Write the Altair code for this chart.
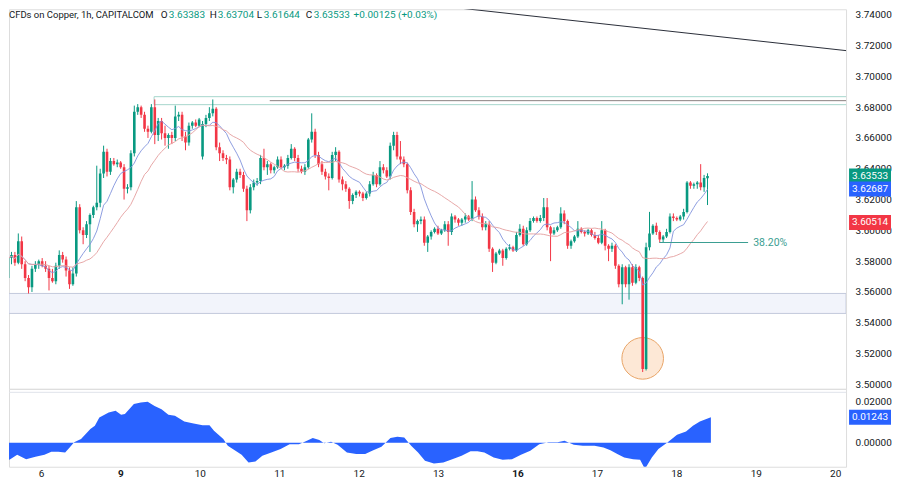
import json
import altair as alt
import pandas as pd

# ---------------- data ----------------
opens = [
    3.569, 3.582, 3.584, 3.579, 3.593, 3.578, 3.569, 3.563, 3.575, 3.578,
    3.580, 3.577, 3.575, 3.569, 3.567, 3.577, 3.584, 3.581, 3.574, 3.565,
    3.572, 3.615, 3.600, 3.597, 3.604, 3.610, 3.615, 3.618, 3.637, 3.651,
    3.638, 3.645, 3.643, 3.644, 3.641, 3.627, 3.628, 3.650, 3.677, 3.680,
    3.675, 3.666, 3.664, 3.680, 3.662, 3.671, 3.663, 3.660, 3.662, 3.660,
    3.674, 3.675, 3.661, 3.657, 3.668, 3.670, 3.668, 3.648, 3.669, 3.673,
    3.676, 3.679, 3.654, 3.650, 3.647, 3.646, 3.628, 3.633, 3.638, 3.636,
    3.627, 3.613, 3.628, 3.631, 3.632, 3.647, 3.641, 3.643, 3.639, 3.641,
    3.646, 3.641, 3.642, 3.647, 3.653, 3.647, 3.640, 3.638, 3.641, 3.659,
    3.664, 3.649, 3.643, 3.638, 3.635, 3.634, 3.649, 3.651, 3.633, 3.630,
    3.627, 3.619, 3.623, 3.625, 3.624, 3.621, 3.624, 3.630, 3.636, 3.630,
    3.641, 3.639, 3.635, 3.655, 3.662, 3.648, 3.646, 3.643, 3.626, 3.612,
    3.604, 3.606, 3.607, 3.592, 3.596, 3.599, 3.601, 3.598, 3.600, 3.604,
    3.599, 3.609, 3.607, 3.605, 3.607, 3.609, 3.607, 3.620, 3.613, 3.609,
    3.602, 3.604, 3.588, 3.579, 3.585, 3.587, 3.582, 3.588, 3.589, 3.587,
    3.597, 3.601, 3.591, 3.600, 3.606, 3.608, 3.606, 3.608, 3.615, 3.602,
    3.598, 3.600, 3.602, 3.611, 3.606, 3.590, 3.593, 3.596, 3.601, 3.599,
    3.598, 3.600, 3.597, 3.595, 3.592, 3.600, 3.590, 3.588, 3.590, 3.577,
    3.565, 3.576, 3.565, 3.576, 3.566, 3.576, 3.569, 3.510, 3.589, 3.598,
    3.603, 3.599, 3.594, 3.596, 3.599, 3.609, 3.608, 3.607, 3.609, 3.612,
    3.631, 3.629, 3.630, 3.631, 3.628, 3.63383,
]
highs = [
    3.585, 3.586, 3.586, 3.598, 3.596, 3.580, 3.571, 3.577, 3.580, 3.581,
    3.582, 3.580, 3.577, 3.575, 3.579, 3.587, 3.586, 3.583, 3.576, 3.576,
    3.619, 3.617, 3.602, 3.606, 3.611, 3.616, 3.642, 3.640, 3.655, 3.653,
    3.647, 3.647, 3.646, 3.645, 3.643, 3.630, 3.652, 3.681, 3.682, 3.681,
    3.677, 3.668, 3.682, 3.685, 3.673, 3.673, 3.668, 3.663, 3.664, 3.681,
    3.677, 3.677, 3.664, 3.670, 3.671, 3.672, 3.673, 3.671, 3.675, 3.680,
    3.685, 3.680, 3.657, 3.652, 3.649, 3.648, 3.634, 3.640, 3.640, 3.638,
    3.629, 3.630, 3.633, 3.634, 3.649, 3.653, 3.645, 3.644, 3.642, 3.648,
    3.648, 3.643, 3.649, 3.656, 3.654, 3.649, 3.642, 3.643, 3.660, 3.676,
    3.666, 3.651, 3.645, 3.640, 3.637, 3.651, 3.654, 3.652, 3.635, 3.632,
    3.628, 3.624, 3.626, 3.626, 3.625, 3.625, 3.632, 3.638, 3.637, 3.645,
    3.643, 3.641, 3.657, 3.664, 3.664, 3.658, 3.648, 3.644, 3.628, 3.614,
    3.607, 3.609, 3.609, 3.597, 3.600, 3.602, 3.603, 3.601, 3.606, 3.606,
    3.611, 3.610, 3.608, 3.608, 3.611, 3.610, 3.632, 3.622, 3.615, 3.611,
    3.606, 3.606, 3.589, 3.586, 3.588, 3.588, 3.589, 3.591, 3.590, 3.599,
    3.604, 3.603, 3.602, 3.608, 3.609, 3.609, 3.610, 3.621, 3.621, 3.603,
    3.602, 3.603, 3.615, 3.613, 3.607, 3.594, 3.597, 3.606, 3.602, 3.600,
    3.601, 3.601, 3.599, 3.597, 3.606, 3.601, 3.591, 3.592, 3.591, 3.578,
    3.578, 3.577, 3.578, 3.578, 3.578, 3.577, 3.570, 3.592, 3.612, 3.604,
    3.605, 3.600, 3.597, 3.601, 3.611, 3.611, 3.609, 3.610, 3.614, 3.632,
    3.632, 3.631, 3.632, 3.643, 3.636, 3.63704,
]
lows = [
    3.565, 3.578, 3.577, 3.578, 3.575, 3.567, 3.559, 3.560, 3.573, 3.575,
    3.576, 3.573, 3.561, 3.566, 3.565, 3.575, 3.579, 3.570, 3.562, 3.564,
    3.570, 3.598, 3.591, 3.595, 3.586, 3.608, 3.613, 3.615, 3.634, 3.635,
    3.636, 3.642, 3.641, 3.640, 3.620, 3.624, 3.626, 3.648, 3.675, 3.673,
    3.664, 3.660, 3.663, 3.656, 3.658, 3.659, 3.655, 3.653, 3.656, 3.658,
    3.671, 3.658, 3.652, 3.655, 3.666, 3.667, 3.667, 3.646, 3.667, 3.671,
    3.674, 3.652, 3.645, 3.645, 3.643, 3.626, 3.624, 3.631, 3.634, 3.625,
    3.606, 3.611, 3.626, 3.629, 3.630, 3.639, 3.636, 3.637, 3.637, 3.640,
    3.640, 3.639, 3.640, 3.646, 3.645, 3.638, 3.637, 3.636, 3.640, 3.657,
    3.647, 3.641, 3.636, 3.633, 3.626, 3.633, 3.645, 3.631, 3.626, 3.625,
    3.614, 3.617, 3.621, 3.622, 3.619, 3.620, 3.622, 3.629, 3.628, 3.629,
    3.637, 3.634, 3.633, 3.652, 3.646, 3.643, 3.641, 3.624, 3.610, 3.602,
    3.599, 3.604, 3.590, 3.586, 3.594, 3.598, 3.597, 3.597, 3.599, 3.590,
    3.597, 3.605, 3.603, 3.603, 3.605, 3.606, 3.606, 3.612, 3.607, 3.600,
    3.600, 3.586, 3.573, 3.578, 3.584, 3.577, 3.581, 3.587, 3.586, 3.586,
    3.596, 3.590, 3.590, 3.599, 3.605, 3.605, 3.605, 3.606, 3.600, 3.580,
    3.597, 3.599, 3.601, 3.604, 3.588, 3.588, 3.592, 3.595, 3.598, 3.596,
    3.597, 3.596, 3.594, 3.591, 3.591, 3.587, 3.580, 3.586, 3.575, 3.563,
    3.552, 3.563, 3.555, 3.564, 3.565, 3.567, 3.508, 3.509, 3.587, 3.597,
    3.597, 3.592, 3.592, 3.595, 3.598, 3.606, 3.606, 3.606, 3.607, 3.611,
    3.627, 3.627, 3.627, 3.626, 3.625, 3.61644,
]
closes = [
    3.582, 3.584, 3.579, 3.593, 3.578, 3.569, 3.563, 3.575, 3.578, 3.580,
    3.577, 3.575, 3.569, 3.567, 3.577, 3.584, 3.581, 3.574, 3.565, 3.572,
    3.615, 3.600, 3.597, 3.604, 3.610, 3.615, 3.618, 3.637, 3.651, 3.638,
    3.645, 3.643, 3.644, 3.641, 3.627, 3.628, 3.650, 3.677, 3.680, 3.675,
    3.666, 3.664, 3.680, 3.662, 3.671, 3.663, 3.660, 3.662, 3.660, 3.674,
    3.675, 3.661, 3.657, 3.668, 3.670, 3.668, 3.672, 3.669, 3.673, 3.676,
    3.679, 3.654, 3.650, 3.647, 3.646, 3.628, 3.633, 3.638, 3.636, 3.627,
    3.613, 3.628, 3.631, 3.632, 3.647, 3.641, 3.643, 3.639, 3.641, 3.646,
    3.641, 3.642, 3.647, 3.653, 3.647, 3.640, 3.638, 3.641, 3.659, 3.664,
    3.649, 3.643, 3.638, 3.635, 3.634, 3.649, 3.651, 3.633, 3.630, 3.627,
    3.619, 3.623, 3.625, 3.624, 3.621, 3.624, 3.630, 3.636, 3.630, 3.641,
    3.639, 3.635, 3.655, 3.662, 3.648, 3.646, 3.643, 3.626, 3.612, 3.604,
    3.606, 3.607, 3.592, 3.596, 3.599, 3.601, 3.598, 3.600, 3.604, 3.599,
    3.609, 3.607, 3.605, 3.607, 3.609, 3.607, 3.620, 3.613, 3.609, 3.602,
    3.604, 3.588, 3.579, 3.585, 3.587, 3.582, 3.588, 3.589, 3.587, 3.597,
    3.601, 3.591, 3.600, 3.606, 3.608, 3.606, 3.608, 3.615, 3.602, 3.598,
    3.600, 3.602, 3.611, 3.606, 3.590, 3.593, 3.596, 3.601, 3.599, 3.598,
    3.600, 3.597, 3.595, 3.592, 3.600, 3.590, 3.588, 3.590, 3.577, 3.565,
    3.576, 3.565, 3.576, 3.566, 3.576, 3.569, 3.510, 3.589, 3.598, 3.603,
    3.599, 3.594, 3.596, 3.599, 3.609, 3.608, 3.607, 3.609, 3.612, 3.631,
    3.629, 3.630, 3.631, 3.628, 3.63408, 3.63533,
]

day_ticks = [11, 34, 57, 80, 103, 126, 149, 172, 195, 218, 241]
day_labels = ["6", "9", "10", "11", "12", "13", "16", "17", "18", "19", "20"]
bold_days = ["9", "16"]

price_ticks = [3.50, 3.52, 3.54, 3.56, 3.58, 3.60, 3.62, 3.64, 3.66, 3.68, 3.70, 3.72, 3.74]
osc_ticks = [0.0, 0.02]

osc_x = [0, 2.1, 4.1, 6.7, 9.4, 12.0, 14.0, 16.0, 18.0, 19.3, 20.6, 22.6, 25.3, 26.6, 27.9,
         30.6, 32.6, 34.2, 35.3, 37.9, 39.9, 41.9, 43.9, 45.9, 47.9, 49.8, 52.5, 55.2, 57.8,
         59.8, 61.1, 63.8, 65.1, 67.1, 69.1, 71.1, 73.1, 75.1, 77.7, 80.4, 83.0, 85.7, 87.7,
         89.7, 91.6, 93.0, 95.0, 96.9, 99.6, 102.3, 104.9, 106.9, 109.6, 112.2, 114.2, 116.2,
         118.2, 120.2, 122.2, 124.8, 127.5, 130.1, 132.8, 135.4, 137.4, 139.4, 142.1, 144.7,
         147.4, 150.0, 152.7, 155.3, 158.0, 160.6, 162.6, 165.3, 167.9, 171.3, 173.9, 175.9,
         177.9, 179.9, 182.5, 184.5, 185.9, 187.9, 189.8, 192.5, 195.2, 197.8, 199.8, 201.8, 205.0]
osc_val = [-0.0096, -0.0080, -0.0059, -0.0080, -0.0068, -0.0059, -0.0044, -0.0044, -0.0047,
           -0.0023, 0.0002, 0.0018, 0.0067, 0.0083, 0.0124, 0.0148, 0.0156, 0.0137, 0.0140,
           0.0189, 0.0197, 0.0200, 0.0180, 0.0164, 0.0137, 0.0132, 0.0104, 0.0094, 0.0086,
           0.0085, 0.0059, 0.0018, -0.0015, -0.0036, -0.0059, -0.0096, -0.0091, -0.0063,
           -0.0047, -0.0031, -0.0007, -0.0007, 0.0007, 0.0023, 0.0013, -0.0002, 0.0005,
           -0.0010, -0.0047, -0.0055, -0.0055, -0.0039, -0.0020, 0.0023, 0.0029, 0.0026,
           -0.0015, -0.0047, -0.0088, -0.0101, -0.0096, -0.0080, -0.0063, -0.0042, -0.0042,
           -0.0047, -0.0072, -0.0083, -0.0080, -0.0059, -0.0039, -0.0007, 0.0002, 0.0002,
           0.0010, -0.0010, -0.0015, -0.0015, -0.0023, -0.0036, -0.0055, -0.0072, -0.0080,
           -0.0083, -0.0128, -0.0072, -0.0031, 0.0002, 0.0039, 0.0055, 0.0083, 0.0104, 0.01243]

tag_values = [3.63533, 3.62687, 3.60514]
osc_tag_value = 0.01243

resistance_zone = [42.8, 3.68162, 3.68681]   # start candle, low, high
resistance_line = [76.7, 3.68422]            # start candle, level
support_zone = [3.54606, 3.55903]            # low, high
fib_level = 3.59211
fib_span = [190.9, 216.9]
fib_label = "38.20%"
trend_x = [120.9, 245.9]
trend_y = [3.74714, 3.71665]
spike_mark = [186, 3.51687]

symbol_title = "CFDs on Copper, 1h, CAPITALCOM"

# ---------------- styling ----------------
UP = "#089981"
DOWN = "#f23645"
BLUE = "#2962ff"
DARK = "#131722"
FONT = "Roboto"

W = 838
H_PRICE = 380
H_OSC = 78
X_DOMAIN = [1.736, 1.736 + W / 3.457]
P_DOMAIN = [3.49709, 3.74357]
O_DOMAIN = [-0.01171, 0.02634]

xs = alt.Scale(domain=X_DOMAIN, nice=False, zero=False)
ps = alt.Scale(domain=P_DOMAIN, nice=False, zero=False)
os_ = alt.Scale(domain=O_DOMAIN, nice=False, zero=False)

PRICE_AXIS = alt.Axis(orient="right", values=price_ticks, format=".5f", domain=False, ticks=False,
                      grid=False, labelPadding=9, labelFont=FONT, labelFontSize=10,
                      labelColor=DARK, title=None, labelFlush=False, labelOverlap=False)
OSC_AXIS = alt.Axis(orient="right", values=osc_ticks, format=".5f", domain=False, ticks=False,
                    grid=False, labelPadding=9, labelFont=FONT, labelFontSize=10,
                    labelColor=DARK, title=None, labelFlush=False, labelOverlap=False)
bold_ticks = [day_ticks[day_labels.index(d)] for d in bold_days]
X_AXIS = alt.Axis(values=day_ticks,
                  labelExpr=f"{json.dumps(day_labels)}[indexof({json.dumps(day_ticks)}, datum.value)]",
                  domain=False, ticks=False, grid=False, labelPadding=2, labelFont=FONT,
                  labelFontSize=10, labelColor=DARK, title=None, labelFlush=False,
                  labelOverlap=False,
                  labelFontWeight={"condition": {"test": f"indexof({json.dumps(bold_ticks)}, datum.value) >= 0",
                                                 "value": "bold"}, "value": "normal"})


def PX(field):
    return alt.X(field, type="quantitative", scale=xs, axis=None)


def PY(field):
    return alt.Y(field, type="quantitative", scale=ps, axis=PRICE_AXIS)


candles = pd.DataFrame({"i": list(range(len(closes))), "o": opens, "h": highs, "l": lows, "c": closes})
candle_color = alt.condition("datum.c >= datum.o", alt.value(UP), alt.value(DOWN))

base = alt.Chart(candles)

support = alt.Chart(pd.DataFrame({"lo": [support_zone[0]], "hi": [support_zone[1]]})).mark_rect(
    fill="#f2f4fb", stroke="#c3c9dc", strokeWidth=1, clip=True
).encode(x=alt.value(0), x2=alt.value(W), y=PY("lo"), y2="hi")

resist = alt.Chart(pd.DataFrame({"s": [resistance_zone[0]], "e": [X_DOMAIN[1] + 5],
                                 "lo": [resistance_zone[1]], "hi": [resistance_zone[2]]})).mark_rect(
    fill="#ffffff", fillOpacity=0, stroke="#a6d6cc", strokeWidth=1, clip=True
).encode(x=PX("s"), x2="e", y=PY("lo"), y2="hi")

res_line = alt.Chart(pd.DataFrame({"s": [resistance_line[0]], "e": [X_DOMAIN[1] + 5],
                                   "v": [resistance_line[1]]})).mark_rule(
    color="#8a7f80", strokeWidth=1, clip=True
).encode(x=PX("s"), x2="e", y=PY("v"))

trend = alt.Chart(pd.DataFrame({"x": trend_x, "y": trend_y})).mark_line(
    color="#2a2e39", strokeWidth=1, clip=True
).encode(x=PX("x"), y=PY("y"))

circle = alt.Chart(pd.DataFrame({"x": [spike_mark[0]], "y": [spike_mark[1]]})).mark_circle(
    size=1735, fill="#fde4cf", stroke="#e8a466", strokeWidth=1, opacity=1, fillOpacity=0.85
).encode(x=PX("x"), y=PY("y"))

wicks = base.mark_rule(strokeWidth=1, clip=True).encode(x=PX("i"), y=PY("l"), y2="h", color=candle_color)
bodies = base.mark_bar(width=2.6, clip=True).encode(x=PX("i"), y=PY("o"), y2="c", color=candle_color)

ma_fast = base.transform_window(ma="mean(c)", frame=[-8, 0], sort=[alt.SortField("i")]).mark_line(
    color="#8193dc", strokeWidth=1, opacity=0.9, clip=True
).encode(x=PX("i"), y=PY("ma"))
ma_slow = base.transform_window(ma="mean(c)", frame=[-20, 0], sort=[alt.SortField("i")]).mark_line(
    color="#e6a3a3", strokeWidth=1, opacity=0.95, clip=True
).encode(x=PX("i"), y=PY("ma"))

fib = alt.Chart(pd.DataFrame({"s": [fib_span[0]], "e": [fib_span[1]], "v": [fib_level]})).mark_rule(
    color="#3a9e92", strokeWidth=1
).encode(x=PX("s"), x2="e", y=PY("v"))
fib_text = alt.Chart(pd.DataFrame({"x": [fib_span[1] + 1.5], "v": [fib_level], "t": [fib_label]})).mark_text(
    align="left", baseline="middle", font=FONT, fontSize=10.5, color="#3a9e92"
).encode(x=PX("x"), y=PY("v"), text="t:N")


def header(text, x, color, size=10):
    return alt.Chart(pd.DataFrame({"t": [text]})).mark_text(
        align="left", baseline="middle", font=FONT, fontSize=size, color=color
    ).encode(x=alt.value(x), y=alt.value(6), text="t:N")


last = len(closes) - 1
chg = closes[last] - closes[last - 1]
pct = chg / closes[last - 1] * 100
headers = [
    header(symbol_title, 0, DARK, 9.5),
    header("O", 152, DARK), header(f"{opens[last]:.5f}", 160, UP),
    header("H", 201, DARK), header(f"{highs[last]:.5f}", 209, UP),
    header("L", 248, DARK), header(f"{lows[last]:.5f}", 255, UP),
    header("C", 297, DARK), header(f"{closes[last]:.5f}", 305, UP),
    header(f"{chg:+.5f} ({pct:+.2f}%)", 345, UP),
]

tags_df = pd.DataFrame({"v": tag_values, "col": [UP, BLUE, DOWN]})
tags_df["t"] = [f"{v:.5f}" for v in tag_values]
tag_layers = []
for k in range(len(tags_df)):
    row = tags_df.iloc[[k]]
    tag_layers.append(
        alt.Chart(row).transform_calculate(top="datum.v + 0.00486", bot="datum.v - 0.00486").mark_rect(
            color=row["col"].iloc[0]
        ).encode(x=alt.value(W + 3), x2=alt.value(W + 45), y=PY("top:Q"), y2="bot:Q")
    )
    tag_layers.append(
        alt.Chart(row).mark_text(font=FONT, fontSize=10, color="white", baseline="middle", align="center")
        .encode(x=alt.value(W + 24), y=PY("v"), text="t:N")
    )

price = alt.layer(
    support, resist, res_line, trend, circle, wicks, bodies, ma_fast, ma_slow, fib, fib_text,
    *headers, *tag_layers
).properties(width=W, height=H_PRICE)

osc_df = pd.DataFrame({"x": osc_x, "v": osc_val})
OY = alt.Y("v", type="quantitative", scale=os_, axis=OSC_AXIS)
OX = alt.X("x", type="quantitative", scale=xs, axis=X_AXIS)

osc_area = alt.Chart(osc_df).mark_area(color=BLUE, clip=True, interpolate="linear").encode(
    x=OX, y=OY, y2=alt.datum(0)
)
sep = alt.Chart(osc_df.head(1)).mark_rule(color="#e0e3eb", strokeWidth=1).encode(
    x=alt.value(0), x2=alt.value(W), y=alt.value(3.5)
)
otag = pd.DataFrame({"x": [X_DOMAIN[0]], "v": [osc_tag_value], "t": [f"{osc_tag_value:.5f}"]})
otag_rect = alt.Chart(otag).transform_calculate(top="datum.v + 0.00366", bot="datum.v - 0.00366").mark_rect(
    color=BLUE
).encode(x=alt.value(W + 3), x2=alt.value(W + 45), y=alt.Y("top:Q", scale=os_, axis=OSC_AXIS), y2="bot:Q")
otag_text = alt.Chart(otag).mark_text(font=FONT, fontSize=10, color="white", baseline="middle", align="center").encode(
    x=alt.value(W + 24), y=OY, text="t:N"
)

osc = alt.layer(osc_area, sep, otag_rect, otag_text).properties(width=W, height=H_OSC)

chart = alt.vconcat(price, osc, spacing=0, bounds="flush").properties(
    padding={"left": 0, "top": 0, "right": 0, "bottom": 0}
).configure_view(stroke=None).configure(background="white")

chart.save("out.html", embed_options={"renderer": "svg", "actions": False})
